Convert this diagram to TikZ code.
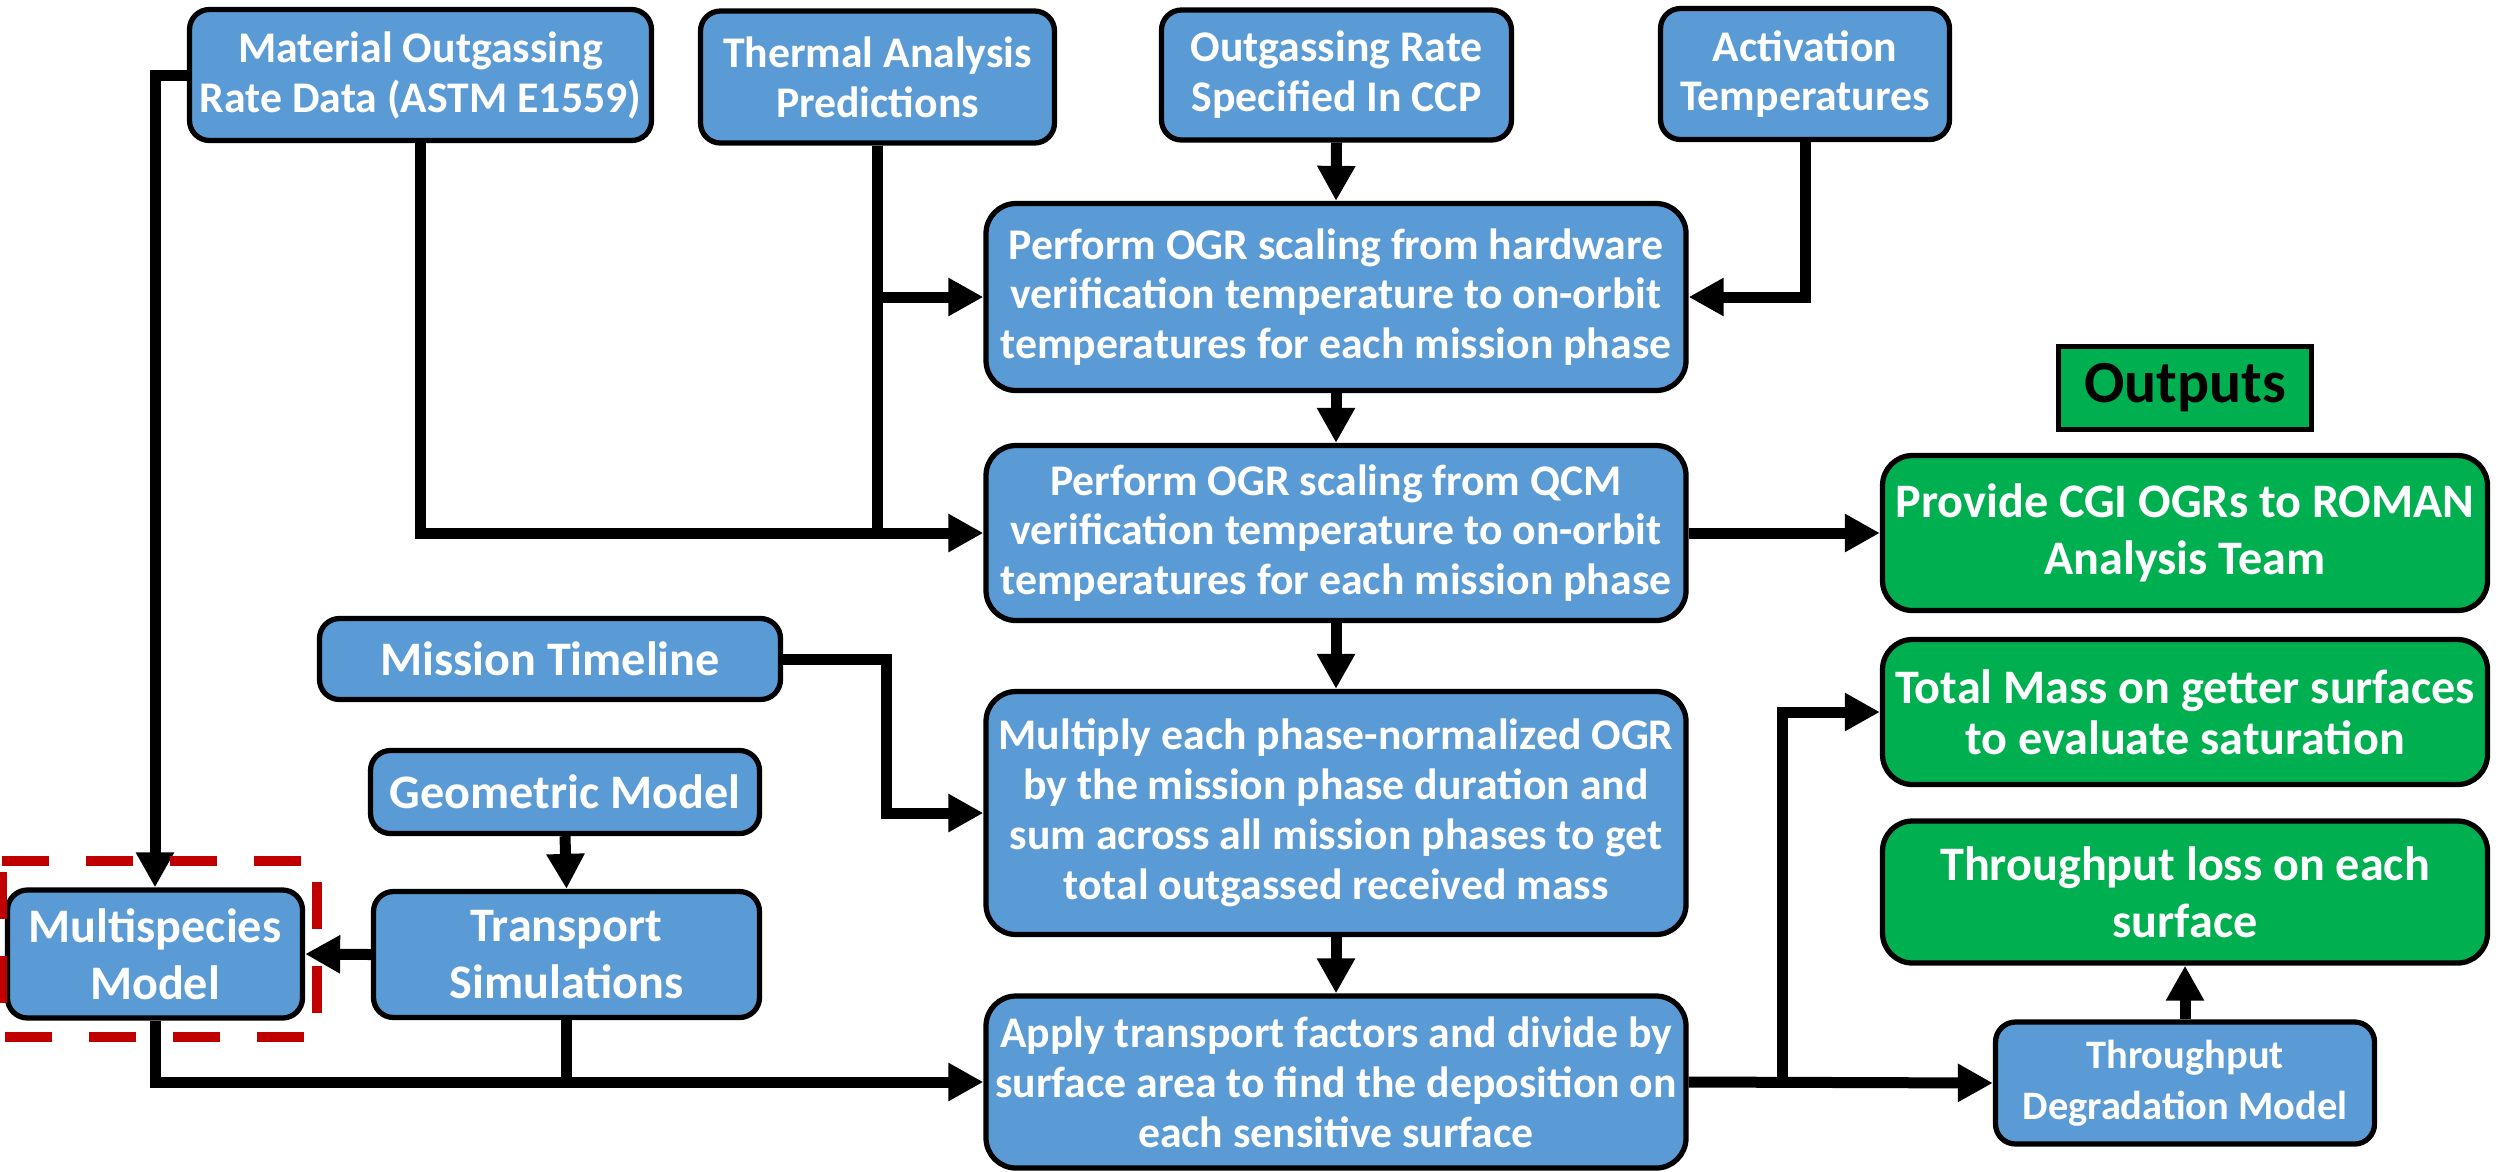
\documentclass[tikz,border=0pt]{standalone}
\usepackage{fontspec}
\setmainfont{Carlito}
\usepackage{tikz}
\usetikzlibrary{positioning, calc, arrows.meta}
\definecolor{BoxBlue}{HTML}{5B9BD5}
\definecolor{OutGreen}{HTML}{00B050}
\definecolor{DashRed}{HTML}{C00000}

\begin{document}
\begin{tikzpicture}%[scale=.8, every node/.style={scale=.8}]
    \tikzset{BoxStyle/.style = {draw=black, line width=1.5pt, fill=BoxBlue, rounded corners=0.2cm, align=center, text=white, inner sep=0pt, font=\fontsize{12.45}{14.2}\selectfont\bfseries}}
    \tikzset{LargeText/.style = {font=\fontsize{13.7}{16.2}\selectfont\bfseries}}
    \tikzset{BigBoxStyle/.style = {BoxStyle, rounded corners=0.3cm, minimum width=7.0cm}}
    \tikzset{OutStyle/.style = {BigBoxStyle, LargeText, fill=OutGreen, minimum width=6.05cm}}
    \tikzset{EdgeStyle/.style = {line width=0.11cm, -{Triangle[length=0.35cm, width=0.36cm]}}}
    \tikzset{EdgeStyleNoArrow/.style = {line width=0.11cm}}
    \useasboundingbox (0, 0) rectangle (25.03, -11.71);
    \node[BoxStyle, minimum width=4.62cm, minimum height=1.31cm] (mat) at (4.205, -0.75) {Material Outgassing\\Rate Data (ASTM E1559)};
    \node[BoxStyle, minimum width=3.54cm, minimum height=1.32cm] (tap) at (8.775, -0.77) {Thermal Analysis\\Predictions};
    \node[BoxStyle, minimum width=3.50cm, minimum height=1.30cm] (ors) at (13.365, -0.75) {Outgassing Rate\\Specified In CCP};
    \node[BoxStyle, minimum width=2.89cm, minimum height=1.31cm] (act) at (18.05, -0.74) {Activation\\Temperatures};
    \node[BigBoxStyle, minimum height=1.87cm] (hw) at (13.36, -2.97) {Perform OGR scaling from hardware\\verification temperature to on-orbit\\temperatures for each mission phase};
    \node[BigBoxStyle, minimum height=1.75cm] (qcm) at (13.36, -5.33) {Perform OGR scaling from QCM\\verification temperature to on-orbit\\temperatures for each mission phase};
    \node[BoxStyle, LargeText, minimum width=4.61cm, minimum height=0.81cm] (mt) at (5.5, -6.59) {Mission Timeline};
    \node[BigBoxStyle, minimum height=2.43cm] (mul) at (13.36, -8.13) {Multiply each phase-normalized OGR\\by the mission phase duration and\\sum across all mission phases to get\\total outgassed received mass};
    \node[BoxStyle, LargeText, minimum width=3.89cm, minimum height=0.83cm] (gm) at (5.65, -7.92) {Geometric Model};
    \node[BoxStyle, LargeText, minimum width=3.86cm, minimum height=1.26cm] (ts) at (5.665, -9.545) {Transport\\Simulations};
    \node[BoxStyle, LargeText, minimum width=2.95cm, minimum height=1.28cm] (msm) at (1.55, -9.54) {Multispecies\\Model};
    \node[BigBoxStyle, minimum height=1.72cm] (app) at (13.36, -10.82) {Apply transport factors and divide by\\surface area to find the deposition on\\each sensitive surface};
    \node[draw=black, line width=1.5pt, fill=OutGreen, minimum width=2.53cm, minimum height=0.83cm, font=\fontsize{17}{20}\selectfont\bfseries] (out) at (21.85, -3.88) {Outputs};
    \node[OutStyle, minimum height=1.55cm] (cgi) at (21.85, -5.33) {Provide CGI OGRs to ROMAN\\Analysis Team};
    \node[OutStyle, minimum height=1.45cm, font=\fontsize{13.7}{14.6}\selectfont\bfseries] (tm) at (21.85, -7.12) {Total Mass on getter surfaces\\to evaluate saturation};
    \node[OutStyle, minimum height=1.42cm] (tl) at (21.85, -8.92) {Throughput loss on each\\surface};
    \node[BoxStyle, minimum width=3.79cm, minimum height=1.22cm, font=\fontsize{11.5}{14.6}\selectfont\bfseries] (tdm) at (21.85, -10.83) {Throughput\\Degradation Model};
    \draw[EdgeStyle] (mat.west) -| (msm.north);
    \draw[EdgeStyle] (mat.south) |- (qcm.west);
    \draw[EdgeStyle] (tap.south) |- (hw.west);
    \draw[EdgeStyleNoArrow] (tap.south) -- (tap.south |- qcm.west);
    \draw[EdgeStyle] (ors.south) -- (hw.north);
    \draw[EdgeStyle] (act.south) |- (hw.east);
    \draw[EdgeStyle] (hw.south) -- (qcm.north);
    \draw[EdgeStyle] (qcm.east) -- (cgi.west);
    \draw[EdgeStyle] (qcm.south) -- (mul.north);
    \draw[EdgeStyle] (mt.east) -- ($(mt.east)+(1.03,0)$) |- (mul.west);
    \draw[EdgeStyle] (mul.south) -- (app.north);
    \draw[EdgeStyle] (gm.south) -- (ts.north);
    \draw[EdgeStyle] (ts.west) -- (msm.east);
    \draw[EdgeStyle] (msm.south) |- (app.west);
    \draw[EdgeStyleNoArrow] (ts.south) -- (ts.south |- app.west);
    \draw[EdgeStyle] (app.east) -- (tdm.west);
    \draw[EdgeStyle] ($(app.east)+(0.94,0)$) |- (tm.west);
    \draw[EdgeStyle] (tdm.north) -- (tl.south);
    \draw[DashRed, line width=0.1cm, dash pattern=on 0.47cm off 0.37cm] (0.02, -8.61) -- (3.17, -8.61) -- (3.17, -10.37) -- (0.02, -10.37) -- cycle;
\end{tikzpicture}
\end{document}
